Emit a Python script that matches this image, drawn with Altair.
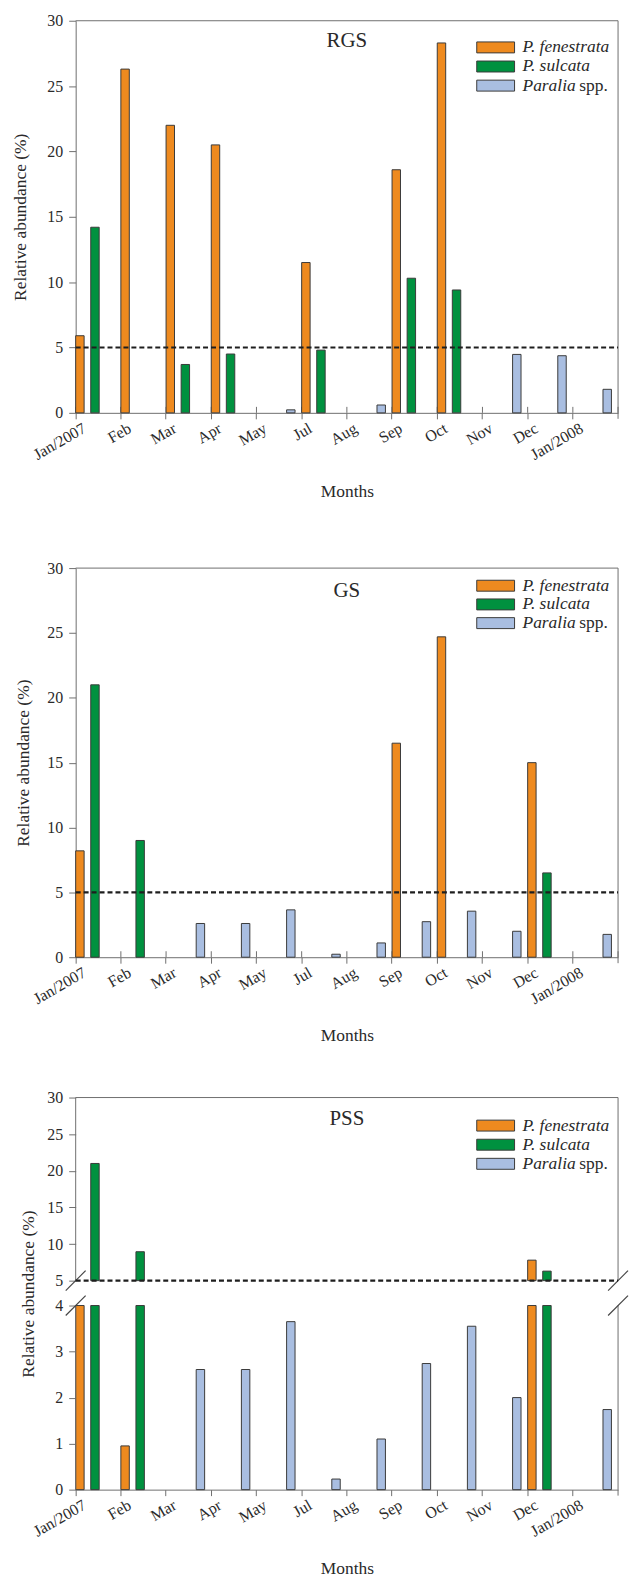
import altair as alt
import pandas as pd

# ---------------- data ----------------
months = ["Jan/2007", "Feb", "Mar", "Apr", "May", "Jul", "Aug", "Sep", "Oct", "Nov", "Dec", "Jan/2008"]
series = ["P. fenestrata", "P. sulcata", "Paralia spp."]
legend_italic = ["P. fenestrata", "P. sulcata", "Paralia"]
legend_plain = ["", "", "spp."]
colors = ["#EE8A1F", "#00913F", "#A9BEE1"]

rgs_fenestrata = [5.9, 26.3, 22.0, 20.5, None, 11.5, None, 18.6, 28.3, None, None, None]
rgs_sulcata = [14.2, None, 3.7, 4.5, None, 4.8, None, 10.3, 9.4, None, None, None]
rgs_paralia = [None, None, None, None, 0.23, None, 0.6, None, None, 4.47, 4.37, 1.8]

gs_fenestrata = [8.2, None, None, None, None, None, None, 16.5, 24.7, None, 15.0, None]
gs_sulcata = [21.0, 9.0, None, None, None, None, None, None, None, None, 6.5, None]
gs_paralia = [None, None, 2.6, 2.6, 3.65, 0.23, 1.1, 2.74, 3.55, 2.0, None, 1.76]

pss_fenestrata = [4.5, 0.95, None, None, None, None, None, None, None, None, 7.8, None]
pss_sulcata = [21.0, 8.95, None, None, None, None, None, None, None, None, 6.3, None]
pss_paralia = [None, None, 2.61, 2.61, 3.65, 0.23, 1.1, 2.74, 3.55, 2.0, None, 1.74]

# ---------------- style ----------------
FONT = "Liberation Serif"
W = 545
BAND = W / len(months)
AXIS_GREY = "#6f6f6f"
BAR_EDGE = "#3a3a3a"
TEXT = "#2a2a2a"


def build_df(fen, sul, par):
    rows = []
    for s, vals in zip(series, [fen, sul, par]):
        for m, v in zip(months, vals):
            if v is not None:
                rows.append({"month": m, "series": s, "value": v})
    return pd.DataFrame(rows)


def panel(name, fen, sul, par, plot_h, top_pad, title_x, legend_top, legend_step,
          name_y, broken=False, inner_ticks=True):
    df = build_df(fen, sul, par)
    H = plot_h + top_pad
    one = alt.Chart(pd.DataFrame({"k": [0]}))

    if broken:
        y_scale = alt.Scale(domain=[0, 4, 5, 30], range=[H, H - 185, H - 210, top_pad],
                            nice=False, zero=False)
        y_ticks = [0, 1, 2, 3, 4, 5, 10, 15, 20, 25, 30]
    else:
        y_scale = alt.Scale(domain=[0, 30], range=[H, top_pad], nice=False, zero=False)
        y_ticks = [0, 5, 10, 15, 20, 25, 30]

    common = dict(labelFont=FONT, titleFont=FONT, labelFontSize=16, titleFontSize=17.5,
                  titleFontWeight="normal", labelColor=TEXT, titleColor=TEXT,
                  domainColor=AXIS_GREY, tickColor=AXIS_GREY, domainWidth=1, tickWidth=1,
                  grid=False, labelOverlap=False)
    x_scale = alt.Scale(domain=months, paddingInner=0, paddingOuter=0)
    x_axis = alt.Axis(title="Months", bandPosition=0, labelAngle=330, labelAlign="right",
                      labelBaseline="top", labelOffset=-BAND / 2 + 5, labelPadding=1,
                      tickSize=6, titleX=W / 2, titleY=79, titleAlign="center",
                      titleBaseline="middle", **common)
    y_axis = alt.Axis(title="Relative abundance (%)", values=y_ticks, domain=not broken,
                      tickSize=7, labelPadding=6, titleX=title_x,
                      titleY=top_pad + plot_h / 2, titleAngle=270, titleAlign="center",
                      titleBaseline="middle", labelFlush=False, **common)

    def X(field="month:N", **kw):
        return alt.X(field, scale=x_scale, axis=x_axis, **kw)

    def Yf(field):
        return alt.Y(field, scale=y_scale, axis=y_axis, title="Relative abundance (%)")

    def Yd(v):
        return alt.YDatum(v, scale=y_scale, axis=y_axis, title="Relative abundance (%)")

    xo = alt.XOffset("series:N", scale=alt.Scale(domain=series, paddingInner=0.44,
                                                 paddingOuter=0.22, align=0))
    color = alt.Color("series:N", scale=alt.Scale(domain=series, range=colors), legend=None)

    layers = []
    bar_kw = dict(stroke=BAR_EDGE, strokeWidth=1)
    if not broken:
        layers.append(alt.Chart(df).mark_bar(**bar_kw).encode(
            x=X(), xOffset=xo, y=Yf("value:Q"), color=color))
    else:
        layers.append(alt.Chart(df).transform_calculate(lo="min(datum.value, 4)").mark_bar(**bar_kw).encode(
            x=X(), xOffset=xo, y=Yf("lo:Q"), y2=alt.datum(0), color=color))
        layers.append(alt.Chart(df).transform_filter("datum.value > 5").mark_bar(**bar_kw).encode(
            x=X(), xOffset=xo, y=Yf("value:Q"), y2=alt.datum(5), color=color))

    # inner halves of the x ticks
    tick_df = pd.DataFrame({"month": months})
    if inner_ticks:
        layers.insert(0, alt.Chart(tick_df).mark_rule(color=AXIS_GREY).encode(
            x=X(bandPosition=0), y=alt.value(H - 6), y2=alt.value(H)))

    # frame
    layers.append(one.mark_rule(color=AXIS_GREY).encode(
        x=alt.value(0), x2=alt.value(W), y=Yd(30)))
    if broken:
        for (a, b) in [(0, 4), (5, 30)]:
            for xv in [0, W]:
                layers.append(one.mark_rule(color=AXIS_GREY).encode(
                    x=alt.value(xv), y=Yd(a), y2=alt.datum(b)))
        for xv in [0, W]:
            for yc in [H - 210, H - 185]:
                layers.append(one.mark_rule(color="#444444", strokeWidth=1.2).encode(
                    x=alt.value(xv - 10), x2=alt.value(xv + 10),
                    y=alt.value(yc + 10), y2=alt.value(yc - 10)))
    else:
        layers.append(one.mark_rule(color=AXIS_GREY).encode(
            x=alt.value(W), y=Yd(0), y2=alt.datum(30)))

    # right-end x tick
    layers.append(one.mark_rule(color=AXIS_GREY).encode(
        x=alt.value(W), y=alt.value(H - 6 if inner_ticks else H), y2=alt.value(H + 6)))

    # 5 % threshold
    layers.append(one.mark_rule(color="#1e1e1e", strokeWidth=2.2, strokeDash=[5, 3]).encode(
        x=alt.value(0), x2=alt.value(W), y=Yd(5)))

    # panel name
    layers.append(one.mark_text(text=name, font=FONT, fontSize=21, color=TEXT,
                                align="center", baseline="middle").encode(
        x=alt.value(W / 2), y=alt.value(name_y)))

    # legend
    for i, (c, it, pl) in enumerate(zip(colors, legend_italic, legend_plain)):
        yc = legend_top + i * legend_step
        layers.append(one.mark_rect(fill=c, stroke=BAR_EDGE, strokeWidth=1).encode(
            x=alt.value(W - 142), x2=alt.value(W - 104),
            y=alt.value(yc - 5.5), y2=alt.value(yc + 5.5)))
        layers.append(one.mark_text(text=it, font=FONT, fontSize=17.5, fontStyle="italic",
                                    color=TEXT, align="left", baseline="middle").encode(
            x=alt.value(W - 96), y=alt.value(yc)))
        if pl:
            layers.append(one.mark_text(text=pl, font=FONT, fontSize=17.5, color=TEXT,
                                        align="left", baseline="middle").encode(
                x=alt.value(W - 96 + 57), y=alt.value(yc)))

    return alt.layer(*layers).properties(width=W, height=H)


rgs = panel("RGS", rgs_fenestrata, rgs_sulcata, rgs_paralia, plot_h=394, top_pad=0,
            title_x=-55, legend_top=26.8, legend_step=19.2, name_y=20.5)
gs = panel("GS", gs_fenestrata, gs_sulcata, gs_paralia, plot_h=391, top_pad=15,
           title_x=-52, legend_top=15 + 17.7, legend_step=18.8, name_y=15 + 23)
pss = panel("PSS", pss_fenestrata, pss_sulcata, pss_paralia, plot_h=394, top_pad=0,
            title_x=-47, legend_top=28.2, legend_step=19.2, name_y=22, broken=True,
            inner_ticks=False)

chart = alt.vconcat(rgs, gs, pss, spacing=141, bounds="flush").properties(
    padding={"left": 4, "top": 1, "right": 0, "bottom": 0}
).configure_view(stroke=None).configure_axis(
    labelFont=FONT, titleFont=FONT
).configure_text(font=FONT)

chart.save("out.html", embed_options={"renderer": "svg", "actions": False})
